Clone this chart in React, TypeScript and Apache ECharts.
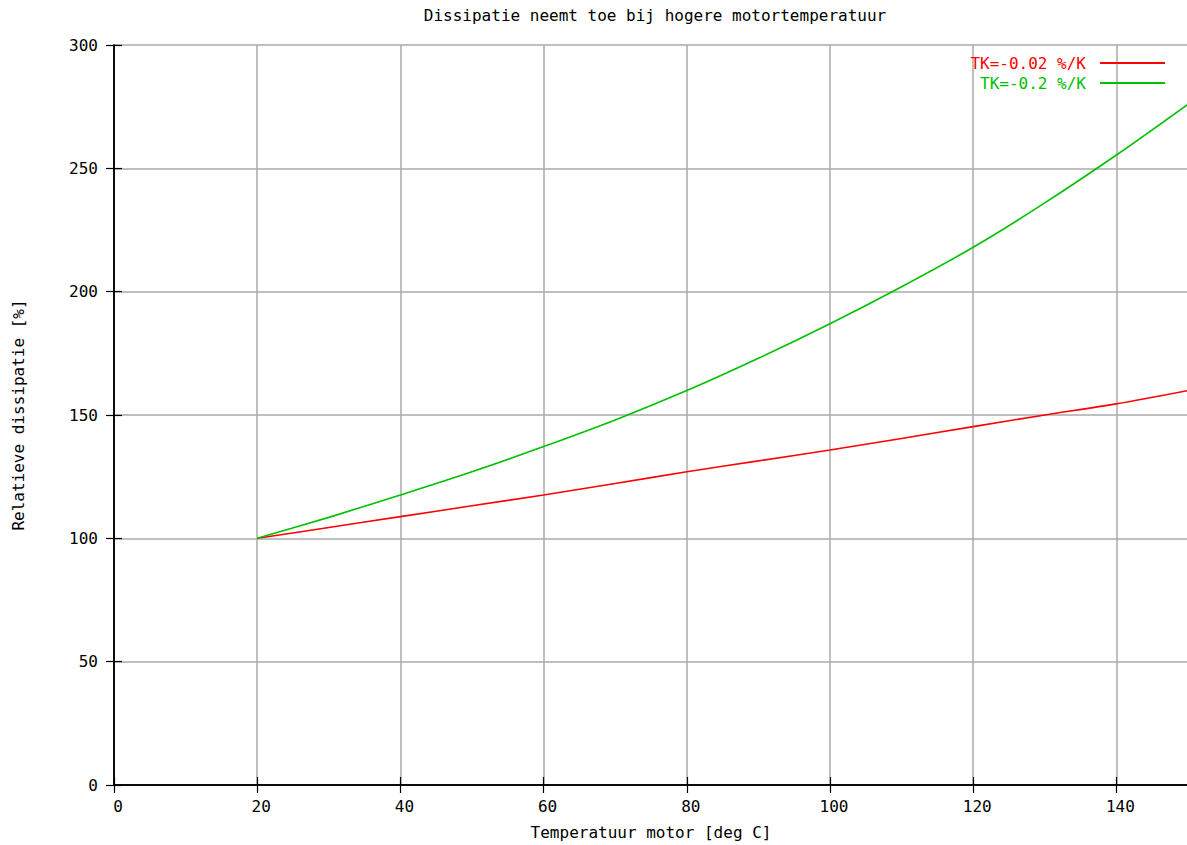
import React, { useEffect, useRef } from "react";
import * as echarts from "echarts";

const TITLE = "Dissipatie neemt toe bij hogere motortemperatuur";
const X_NAME = "Temperatuur motor [deg C]";
const Y_NAME = "Relatieve dissipatie [%]";

const temps = [20, 30, 40, 50, 60, 70, 80, 90, 100, 110, 120, 130, 140, 150];
const redName = "TK=-0.02 %/K";
const redValues = [100, 104.4, 108.8, 113.2, 117.6, 122.2, 127.0, 131.4, 135.8, 140.5, 145.3, 150.0, 154.5, 159.9];
const greenName = "TK=-0.2 %/K";
const greenValues = [100, 108.5, 117.6, 127.0, 137.2, 148.0, 159.9, 173.0, 187.0, 202.0, 218.0, 236.0, 255.4, 276.0];

const RED = "#ff0000";
const GREEN = "#00c000";
const FONT = "DejaVu Sans Mono";

export default function App() {
  const ref = useRef<HTMLDivElement>(null);
  useEffect(() => {
    if (!ref.current) return;
    const chart = echarts.init(ref.current, undefined, { renderer: "svg" });
    const pairs = (vals: number[]) => temps.map((t, i) => [t, vals[i]]);
    const tickCommon = { show: true, inside: true, length: 8, lineStyle: { color: "#000", width: 1.2 } };
    chart.setOption({
      animation: false,
      backgroundColor: "#fff",
      textStyle: { fontFamily: FONT },
      title: {
        text: TITLE,
        left: 650,
        textAlign: "center",
        top: 2,
        textStyle: { fontFamily: FONT, fontSize: 16, fontWeight: "normal", color: "#000" },
      },
      legend: {
        orient: "vertical",
        right: 17,
        top: 50,
        align: "right",
        icon: "rect",
        itemWidth: 65,
        itemHeight: 2,
        itemGap: 4,
        data: [
          { name: redName, textStyle: { color: RED } },
          { name: greenName, textStyle: { color: GREEN } },
        ],
        textStyle: { fontFamily: FONT, fontSize: 16, padding: [0, 9, 0, 0] },
      },
      grid: { left: 114, right: -1, top: 45, bottom: 60, containLabel: false, outerBoundsMode: "none" },
      xAxis: [
        {
          type: "value",
          min: 0,
          max: 150,
          interval: 20,
          name: X_NAME,
          nameLocation: "middle",
          nameGap: 39,
          nameTextStyle: { fontFamily: FONT, fontSize: 16, color: "#000" },
          axisLine: { show: true, lineStyle: { color: "#000", width: 1.5 } },
          axisTick: tickCommon,
          axisLabel: { showMaxLabel: false, margin: 13, fontFamily: FONT, fontSize: 16, color: "#000", padding: [0, 0, 0, 8] },
          splitLine: { show: true, lineStyle: { color: "#aaaaaa", width: 1.5 } },
        },
        {
          type: "value",
          position: "top",
          min: 0,
          max: 150,
          interval: 20,
          axisLine: { show: true, lineStyle: { color: "#000", width: 1.5 } },
          axisTick: tickCommon,
          axisLabel: { show: false },
          splitLine: { show: false },
        },
      ],
      yAxis: [
        {
          type: "value",
          min: 0,
          max: 300,
          interval: 50,
          name: Y_NAME,
          nameLocation: "middle",
          nameRotate: 90,
          nameGap: 88,
          nameTextStyle: { fontFamily: FONT, fontSize: 16, color: "#000" },
          axisLine: { show: true, lineStyle: { color: "#000", width: 1.5 } },
          axisTick: tickCommon,
          axisLabel: { margin: 16, fontFamily: FONT, fontSize: 16, color: "#000" },
          splitLine: { show: true, lineStyle: { color: "#aaaaaa", width: 1.5 } },
        },
        {
          type: "value",
          position: "right",
          min: 0,
          max: 300,
          interval: 50,
          axisLine: { show: true, lineStyle: { color: "#000", width: 1.5 } },
          axisTick: tickCommon,
          axisLabel: { show: false },
          splitLine: { show: false },
        },
      ],
      series: [
        {
          name: redName,
          type: "line",
          data: pairs(redValues),
          symbol: "none",
          smooth: 0.3,
          lineStyle: { color: RED, width: 1.6 },
          itemStyle: { color: RED },
        },
        {
          name: greenName,
          type: "line",
          data: pairs(greenValues),
          symbol: "none",
          smooth: 0.3,
          lineStyle: { color: GREEN, width: 1.6 },
          itemStyle: { color: GREEN },
        },
      ],
    });
    return () => chart.dispose();
  }, []);
  return (
    <div
      ref={ref}
      style={{ position: "fixed", left: 0, top: 0, width: 1187, height: 845, background: "#fff" }}
    />
  );
}
